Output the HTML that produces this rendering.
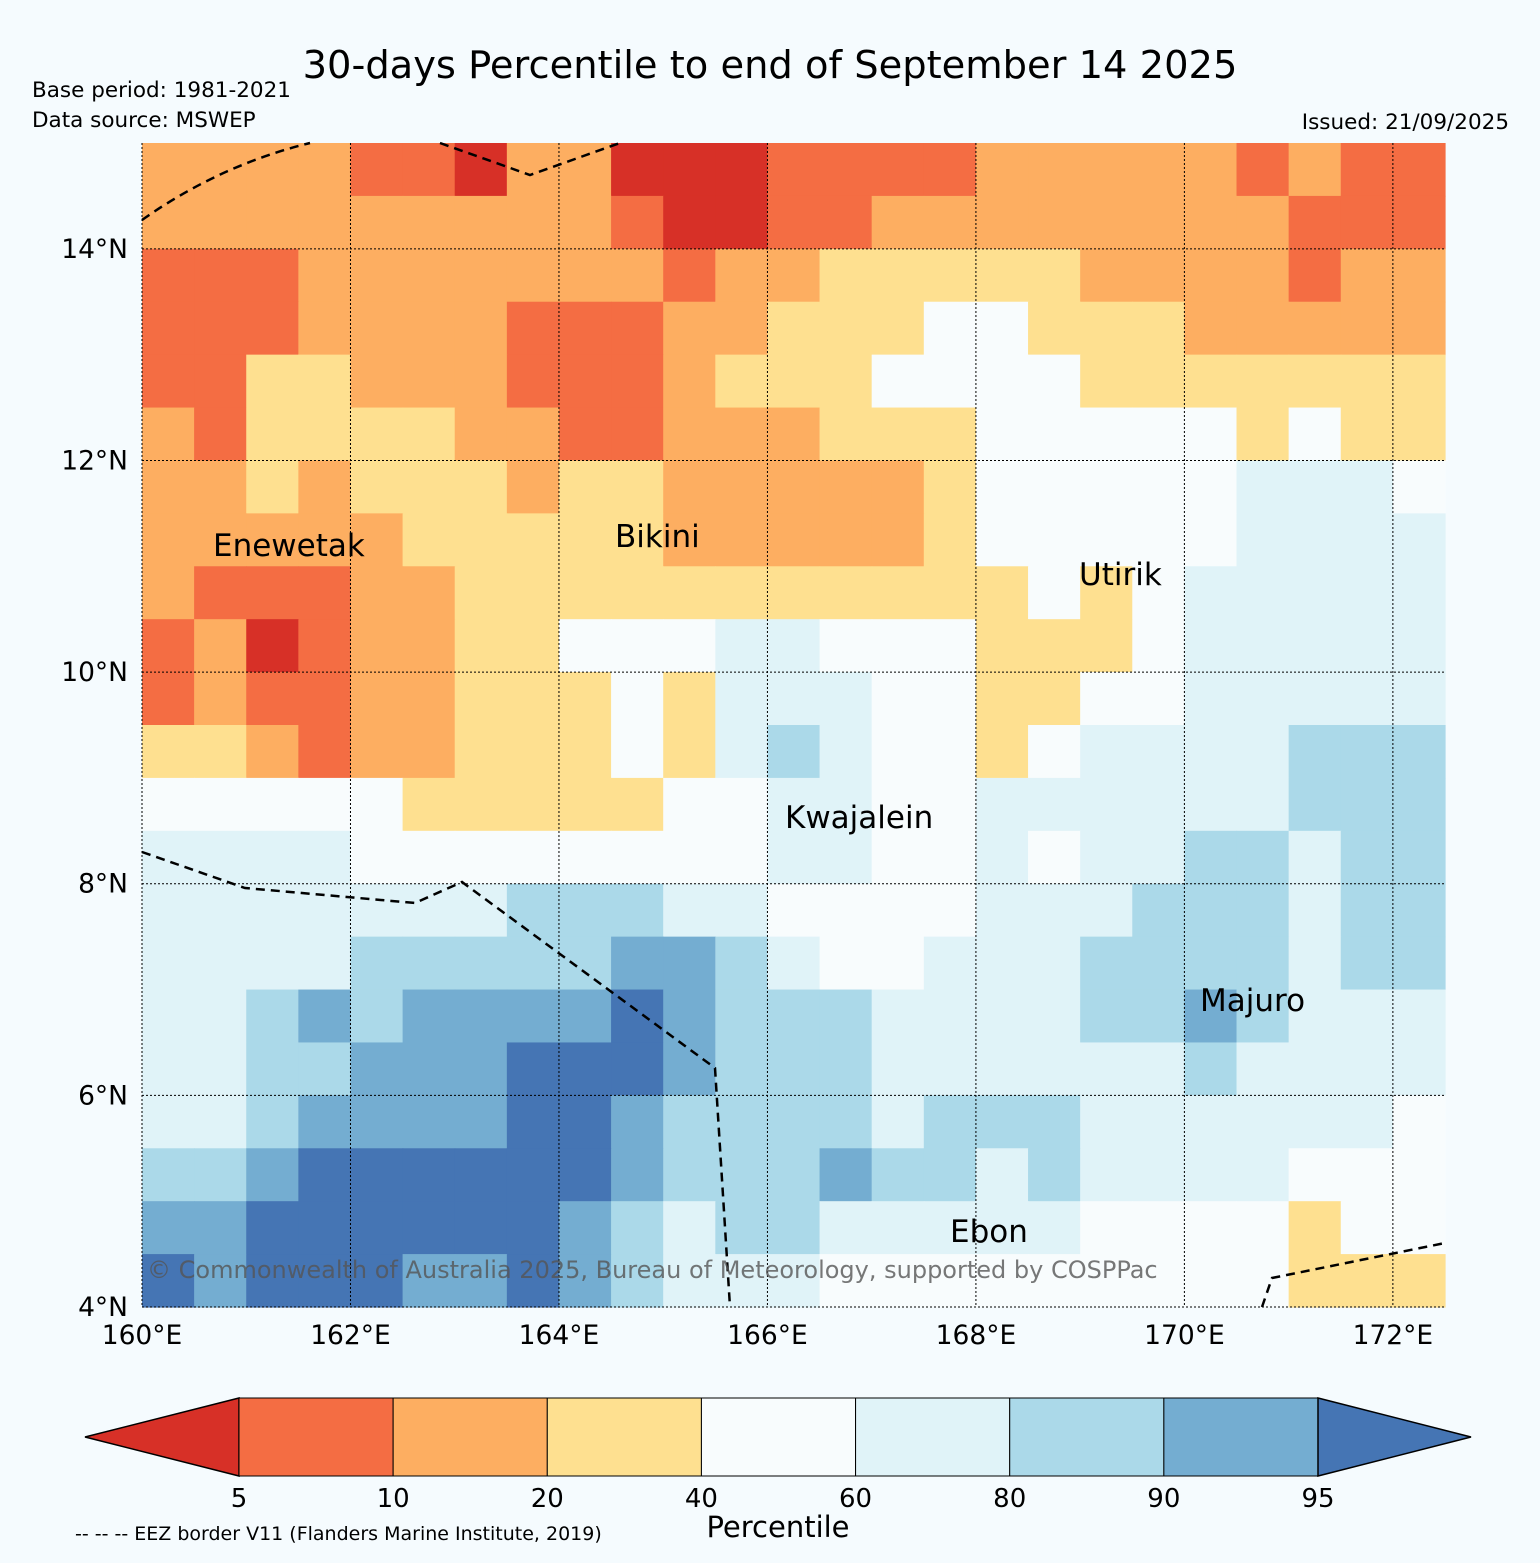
<!DOCTYPE html>
<html><head><meta charset="utf-8"><style>
body{margin:0;background:#f5fbfe;}
svg{display:block;font-family:"DejaVu Sans","Liberation Sans",sans-serif;}
</style></head><body>
<svg id="chart" width="1540" height="1563" viewBox="0 0 1540 1563">
<rect width="1540" height="1563" fill="#f5fbfe"/>
<text x="770" y="78" font-size="38.4" text-anchor="middle">30-days Percentile to end of September 14 2025</text>
<text x="32" y="97" font-size="21.5">Base period: 1981-2021</text>
<text x="32" y="127" font-size="21.5">Data source: MSWEP</text>
<text x="1509" y="129" font-size="21.5" text-anchor="end">Issued: 21/09/2025</text>
<g id="cells"></g>
<g id="grid"></g>
<g id="eez" fill="none" stroke="#000" stroke-width="2.5" stroke-dasharray="9,6">
<path d="M142,220 Q220,165 310,143"/>
<path d="M440,143 L530,175 L620,143"/>
<path d="M142,852 L245,888 L415,903 L462,882 L715,1068 L730,1307"/>
<path d="M1262,1307 L1272,1278 L1445,1243"/>
</g>
<g id="axislabels" font-size="26.5"></g>
<g font-size="31">
<text x="213" y="556">Enewetak</text>
<text x="615" y="547">Bikini</text>
<text x="1079" y="585">Utirik</text>
<text x="785" y="828">Kwajalein</text>
<text x="1200" y="1011">Majuro</text>
<text x="950" y="1242">Ebon</text>
</g>
<text x="147" y="1278" font-size="24" fill="#555" fill-opacity="0.8">© Commonwealth of Australia 2025, Bureau of Meteorology, supported by COSPPac</text>
<g id="cbar"></g>
<text x="778" y="1537" font-size="29" text-anchor="middle">Percentile</text>
<text x="75" y="1540" font-size="19">-- -- -- EEZ border V11 (Flanders Marine Institute, 2019)</text>
</svg>
<script>
const colors=["#d73027","#f46d43","#fdae61","#fee090","#f8fcfd","#e0f3f8","#abd9e9","#74add1","#4575b4"];
const levels=[5,10,20,40,60,80,90,95];
const lonTicks=[160,162,164,166,168,170,172];
const latTicks=[4,6,8,10,12,14];
const rows=[
"2222110220001111222221211",
"2222222221001122222222111",
"1112222222122333332222122",
"1112222111223334433322222",
"1133222111233344443333333",
"2133332211222333444443433",
"2232333233222223444445554",
"2222233333222223444445555",
"2111223333333333343455555",
"1201223344455444333455555",
"1211223334355544334455555",
"3321223334356544345555666",
"4444433333445544555555666",
"5555444444445544545566566",
"5555555666554444555666566",
"5555666667765445556666566",
"5567677778766655556676555",
"5566777888766655555565555",
"5567777887666656665555554",
"6678888887666766565555444",
"7788888876566555554444344",
"8788877876555444444444333"
];
const x0=142,x1=1445,y0=143,y1=1307,lon0=160,lon1=172.5,lat0=15,lat1=4;
const xs=l=>x0+(l-lon0)/(lon1-lon0)*(x1-x0);
const ys=l=>y0+(lat0-l)/(lat0-lat1)*(y1-y0);
const NS="http://www.w3.org/2000/svg";
function mk(tag,attrs,parent){const e=document.createElementNS(NS,tag);for(const k in attrs)e.setAttribute(k,attrs[k]);parent.appendChild(e);return e;}
const cells=document.getElementById('cells');
const dl=(lon1-lon0)/rows[0].length, dt=(lat0-lat1)/rows.length;
rows.forEach((r,i)=>{for(let j=0;j<r.length;j++){
 const la=lat0-i*dt, lo=lon0+j*dl;
 const x=xs(lo),y=ys(la);
 const e=mk('rect',{x:x,y:y,width:xs(lo+dl)-x+0.6,height:ys(la-dt)-y+0.6,fill:colors[+r[j]]},cells);
 
 
}});
const grid=document.getElementById('grid');
const al=document.getElementById('axislabels');
lonTicks.forEach(l=>{const x=xs(l);
 const g=mk('line',{x1:x,x2:x,y1:y0,y2:y1,stroke:'#000','stroke-width':1,'stroke-dasharray':'2,2'},grid);
 
 
 const t=mk('text',{x:x,y:1344,'text-anchor':'middle'},al);t.textContent=l+'°E';
 
 
});
latTicks.forEach(l=>{const y=ys(l);
 const g=mk('line',{x1:x0,x2:x1,y1:y,y2:y,stroke:'#000','stroke-width':1,'stroke-dasharray':'2,2'},grid);
 
 
 const t=mk('text',{x:128,y:y+9,'text-anchor':'end'},al);t.textContent=l+'°N';
 
 
});
const cb=document.getElementById('cbar');
const cbx0=239,cbx1=1318,cby0=1398,cby1=1476,w=(cbx1-cbx0)/(levels.length-1);
let tri=mk('polygon',{points:`${cbx0},${cby0} ${cbx0},${cby1} 85,${(cby0+cby1)/2}`,fill:colors[0],stroke:'#000','stroke-width':1.5},cb);


for(let i=0;i<levels.length-1;i++){
 const r=mk('rect',{x:cbx0+i*w,y:cby0,width:w,height:cby1-cby0,fill:colors[i+1],stroke:'#000','stroke-width':1},cb);
 
 
}
tri=mk('polygon',{points:`${cbx1},${cby0} ${cbx1},${cby1} 1471,${(cby0+cby1)/2}`,fill:colors[8],stroke:'#000','stroke-width':1.5},cb);


levels.forEach((v,i)=>{const t=mk('text',{x:cbx0+i*w,y:1507,'text-anchor':'middle','font-size':26},cb);t.textContent=v;
 
 
});
</script>
</body></html>
